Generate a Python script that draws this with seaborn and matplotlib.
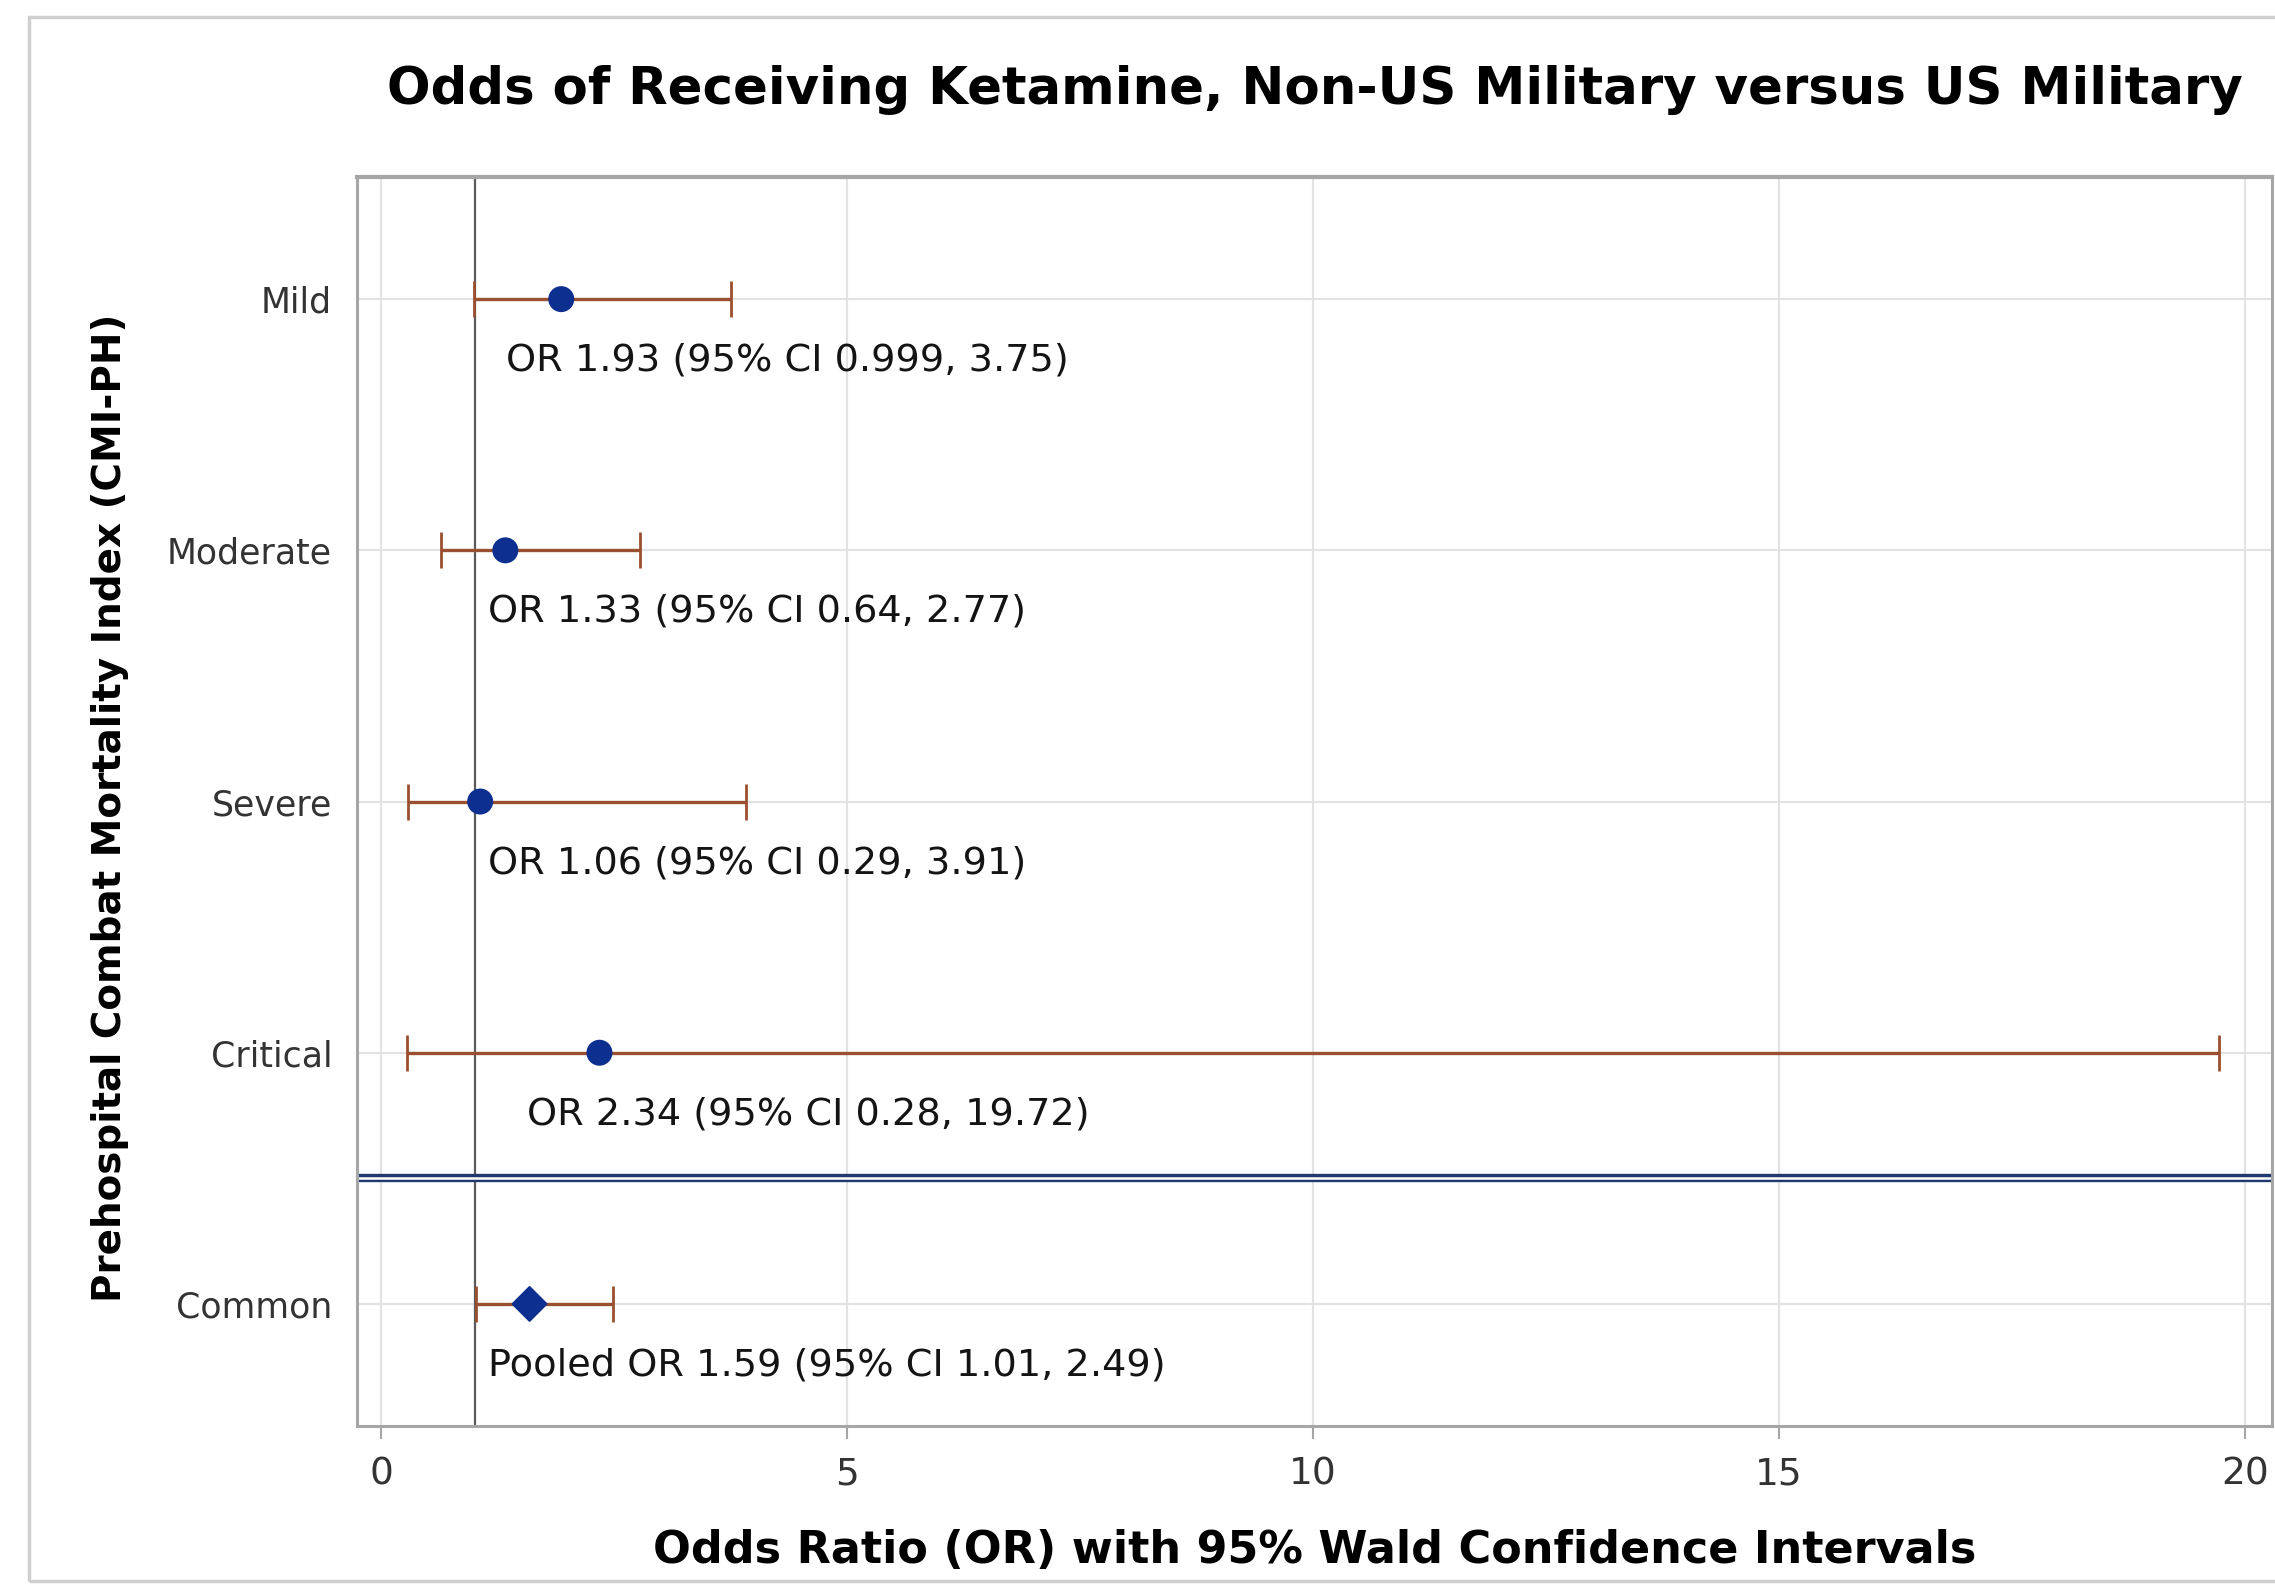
import numpy as np
import pandas as pd
import seaborn as sns
import matplotlib.pyplot as plt
from matplotlib.patches import Rectangle

# --- data ---
groups = ["Mild", "Moderate", "Severe", "Critical", "Common"]
odds_ratio = [1.93, 1.33, 1.06, 2.34, 1.59]
ci_low = [0.999, 0.64, 0.29, 0.28, 1.01]
ci_high = [3.75, 2.77, 3.91, 19.72, 2.49]
estimate_kind = ["Stratum", "Stratum", "Stratum", "Stratum", "Pooled"]
annotations = [
    "OR 1.93 (95% CI 0.999, 3.75)",
    "OR 1.33 (95% CI 0.64, 2.77)",
    "OR 1.06 (95% CI 0.29, 3.91)",
    "OR 2.34 (95% CI 0.28, 19.72)",
    "Pooled OR 1.59 (95% CI 1.01, 2.49)",
]
x_ticks = [0, 5, 10, 15, 20]

# layout only (where each annotation starts, in OR units)
annot_x = [1.34, 1.14, 1.14, 1.56, 1.14]

df = pd.DataFrame({
    "group": groups,
    "OR": odds_ratio,
    "low": ci_low,
    "high": ci_high,
    "kind": estimate_kind,
})
df["pos"] = np.arange(len(df))

sns.set_theme(style="whitegrid")
plt.rcParams["font.family"] = ["DejaVu Sans"]

fig = plt.figure(figsize=(22.75, 15.85), dpi=100)
fig.patch.set_facecolor("white")
ax = fig.add_axes([0.157, 0.1003, 0.8417, 0.788])

# outer frame of the exported graphic (right side runs off the crop)
fig.patches.append(Rectangle((0.0127, 0.0025), 1.2, 0.9868, transform=fig.transFigure,
                             fill=False, edgecolor="#cfcfcf", linewidth=2.5, zorder=0))

# reference line at OR = 1
ax.axvline(1, color="#5a5a5a", lw=1.6, zorder=2)

# separator between strata and pooled estimate (double line)
ax.axhline(3.5, color="#1f3a6e", lw=6, zorder=2)
ax.axhline(3.5, color="white", lw=1.8, zorder=2)

# confidence intervals
ax.errorbar(
    x=df["OR"], y=df["pos"],
    xerr=[df["OR"] - df["low"], df["high"] - df["OR"]],
    fmt="none", ecolor="#9a5030", elinewidth=2.4,
    capsize=13, capthick=2, zorder=3,
)

# point estimates
sns.scatterplot(
    data=df, x="OR", y="pos", style="kind",
    markers={"Stratum": "o", "Pooled": "D"},
    s=300, color="#0d2f8f", edgecolor="#0d2f8f",
    legend=False, ax=ax, zorder=4,
)

for i, txt in enumerate(annotations):
    ax.text(annot_x[i], df["pos"][i] + 0.245, txt, fontsize=27.5,
            color="#141414", ha="left", va="center", zorder=5)

ax.set_xlim(-0.26, 20.29)
ax.set_ylim(4.486, -0.486)
ax.set_xticks(x_ticks)
ax.set_yticks(df["pos"])
ax.set_yticklabels(groups)

ax.grid(True, color="#e2e2e2", lw=1.5)
ax.set_axisbelow(True)

for side, sp in ax.spines.items():
    sp.set_color("#a6a6a6")
    sp.set_linewidth(2.2)
ax.spines["top"].set_linewidth(3)

ax.tick_params(axis="x", which="major", bottom=True, length=9, width=1.5, color="#a6a6a6",
               labelsize=27, labelcolor="#333333", pad=13)
for lbl in ax.get_xticklabels():
    lbl.set_family("Liberation Sans Narrow")
ax.tick_params(axis="y", length=0, labelsize=25, labelcolor="#333333", pad=18)

ax.set_xlabel("")
ax.set_ylabel("Prehospital Combat Mortality Index (CMI-PH)",
              fontsize=28, fontweight="bold", color="black", va="center")
ax.yaxis.set_label_coords(-0.129, 0.495)

# x-axis title, centred under the plot area
fig.text(0.578, 0.0215, "Odds Ratio (OR) with 95% Wald Confidence Intervals",
         fontsize=32, fontweight="bold", color="black", ha="center", va="center")

fig.text(0.578, 0.943, "Odds of Receiving Ketamine, Non-US Military versus US Military",
         fontsize=37, fontweight="bold", color="black", ha="center", va="center")

fig.savefig("out.png", dpi=100, facecolor="white")
